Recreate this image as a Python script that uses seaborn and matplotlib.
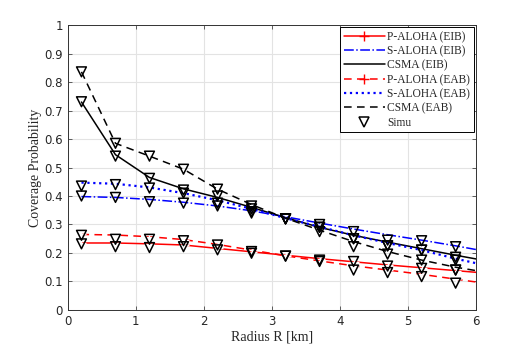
import seaborn as sns
import numpy as np
import matplotlib
matplotlib.use('Agg')
import matplotlib.pyplot as plt
from matplotlib.lines import Line2D

# analytical curves
radius = [0.2, 0.7, 1.2, 1.7, 2.2, 2.7, 3.2, 3.7, 4.2, 4.7, 5.2, 5.7, 6.0]
p_aloha_eib = [0.235, 0.235, 0.232, 0.228, 0.216, 0.204, 0.192, 0.180, 0.169, 0.158, 0.148, 0.138, 0.132]
s_aloha_eib = [0.398, 0.395, 0.388, 0.378, 0.365, 0.348, 0.327, 0.305, 0.284, 0.264, 0.245, 0.225, 0.212]
csma_eib = [0.730, 0.545, 0.465, 0.425, 0.395, 0.360, 0.324, 0.290, 0.262, 0.238, 0.215, 0.192, 0.179]
p_aloha_eab = [0.265, 0.263, 0.257, 0.247, 0.230, 0.210, 0.190, 0.172, 0.155, 0.140, 0.125, 0.108, 0.098]
s_aloha_eab = [0.447, 0.443, 0.430, 0.410, 0.385, 0.355, 0.322, 0.292, 0.262, 0.235, 0.210, 0.180, 0.164]
csma_eab = [0.836, 0.585, 0.540, 0.494, 0.424, 0.370, 0.322, 0.280, 0.240, 0.205, 0.175, 0.150, 0.138]

# simulation points
simu_r = [0.2, 0.7, 1.2, 1.7, 2.2, 2.7, 3.2, 3.7, 4.2, 4.7, 5.2, 5.7]
simu_p_eib = [0.232, 0.222, 0.219, 0.222, 0.211, 0.199, 0.189, 0.170, 0.170, 0.154, 0.146, 0.140]
simu_s_eib = [0.400, 0.395, 0.380, 0.375, 0.365, 0.340, 0.320, 0.300, 0.275, 0.245, 0.243, 0.222]
simu_c_eib = [0.731, 0.540, 0.462, 0.421, 0.400, 0.355, 0.320, 0.290, 0.250, 0.225, 0.210, 0.185]
simu_p_eab = [0.262, 0.248, 0.248, 0.243, 0.228, 0.205, 0.189, 0.175, 0.140, 0.131, 0.117, 0.094]
simu_s_eab = [0.435, 0.440, 0.428, 0.410, 0.375, 0.345, 0.320, 0.290, 0.250, 0.225, 0.210, 0.175]
simu_c_eab = [0.836, 0.585, 0.540, 0.494, 0.424, 0.365, 0.320, 0.275, 0.222, 0.196, 0.175, 0.140]

sns.set_style('ticks')
plt.rcParams['font.family'] = ['DejaVu Sans']

fig = plt.figure(figsize=(5.26, 3.49), dpi=100)
ax = fig.add_axes([0.129, 0.112, 0.776, 0.816])

dash = (0, (5, 3.5))
lines = [
    (p_aloha_eib, 'red', '-', '+', 'P-ALOHA (EIB)'),
    (s_aloha_eib, 'blue', '-.', None, 'S-ALOHA (EIB)'),
    (csma_eib, 'black', '-', None, 'CSMA (EIB)'),
    (p_aloha_eab, 'red', dash, '+', 'P-ALOHA (EAB)'),
    (s_aloha_eab, 'blue', ':', None, 'S-ALOHA (EAB)'),
    (csma_eab, 'black', dash, None, 'CSMA (EAB)'),
]
handles = []
for vals, col, ls, mk, lab in lines:
    lw = 1.6 if ls == ':' else 1.1
    sns.lineplot(x=radius, y=vals, ax=ax, color=col, linestyle=ls, linewidth=lw)
    if mk:
        sns.lineplot(x=radius[:-1], y=vals[:-1], ax=ax, color=col, linestyle='none',
                     marker=mk, markersize=7, markeredgewidth=1.0)
    handles.append(Line2D([], [], color=col, linestyle=ls, linewidth=lw, marker=mk,
                          markersize=7, markeredgewidth=1.0, label=lab))

sx = np.tile(simu_r, 6)
sy = np.concatenate([simu_p_eib, simu_s_eib, simu_c_eib, simu_p_eab, simu_s_eab, simu_c_eab])
sns.scatterplot(x=sx, y=sy, ax=ax, marker='v', s=50, facecolors='none',
                edgecolor='black', linewidth=1.1, zorder=5)
handles.append(Line2D([], [], color='black', linestyle='none', marker='v', markersize=7,
                      markerfacecolor='none', markeredgewidth=1.1, label='Simu'))

ax.set_xlim(0, 6)
ax.set_ylim(0, 1)
ax.set_xticks(range(0, 7))
ax.set_yticks(np.arange(0, 1.01, 0.1))
ax.set_yticklabels(['0', '0.1', '0.2', '0.3', '0.4', '0.5', '0.6', '0.7', '0.8', '0.9', '1'])
ax.grid(True, color='#e3e3e3', linewidth=0.8)
ax.set_axisbelow(True)
ax.tick_params(direction='in', top=True, right=True, labelsize=8.5, length=3, width=0.6, color='#444444')
for sp in ax.spines.values():
    sp.set_linewidth(0.7)
    sp.set_color('#333333')

ax.set_xlabel('Radius R [km]', family='Liberation Serif', fontsize=10, labelpad=2)
ax.set_ylabel('Coverage Probability', family='Liberation Serif', fontsize=10, labelpad=2)

leg = ax.legend(handles=handles, loc='upper right', prop={'family': 'Liberation Serif', 'size': 8.3},
                frameon=True, fancybox=False, edgecolor='black', framealpha=1,
                borderpad=0.3, labelspacing=0.2, handlelength=3.6, handletextpad=0.2,
                borderaxespad=0.2)
leg.get_frame().set_linewidth(0.7)

fig.savefig('out.png', dpi=100, facecolor='white')
